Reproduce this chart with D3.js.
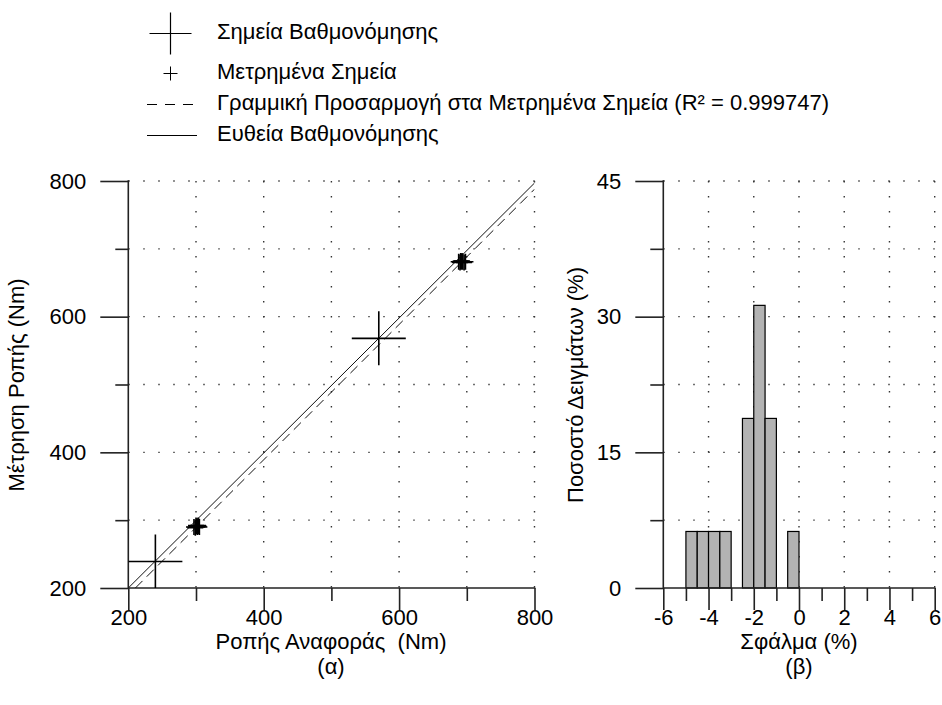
<!DOCTYPE html>
<html><head><meta charset="utf-8">
<script src="https://cdn.jsdelivr.net/npm/d3@7"></script>
<style>
body{margin:0;background:#fff}
svg text{font-family:"Liberation Sans",Arial,sans-serif;fill:#000}
</style></head><body>
<svg id="chart" width="942" height="705"></svg>
<script>
// Calibration points (reference torque, measured torque) in Nm
const calibRef = [240, 570];
const calibMeas = [239, 568];
// Calibration straight line end points
const calibLineRef = [200, 800];
const calibLineMeas = [200, 797];
// Measured points (reference torque, measured torque) in Nm
const measRef = [297, 299, 300, 301, 302, 303, 304, 305, 688, 690, 691, 692, 693, 694, 696, 698];
const measVal = [290, 289, 292, 291, 290, 292, 291, 290, 681, 680, 682, 681, 682, 681, 680, 681];
// Error histogram: bin lower edges (%) and share of samples (%)
const binStart = [-5, -4.5, -4, -3.5, -3, -2.5, -2, -1.5, -1, -0.5, 0, 0.5, 1, 1.5, 2, 2.5, 3, 3.5, 4];
const binPct = [6.25, 6.25, 6.25, 6.25, 0, 18.75, 31.25, 18.75, 0, 6.25, 0, 0, 0, 0, 0, 0, 0, 0, 0];
const binWidth = 0.5;
// Tick values
const torqueTicks = [200, 400, 600, 800];
const torqueMinor = [300, 500, 700];
const errTicks = [-6, -4, -2, 0, 2, 4, 6];
const errMinor = [-5, -3, -1, 1, 3, 5];
const pctTicks = [0, 15, 30, 45];
const pctMinor = [7.5, 22.5, 37.5];
const legendLabels = [
  "Σημεία Βαθμονόμησης",
  "Μετρημένα Σημεία",
  "Γραμμική Προσαρμογή στα Μετρημένα Σημεία (R² = 0.999747)",
  "Ευθεία Βαθμονόμησης"
];

const FS = 22;
const svg = d3.select("#chart");
const plotTop = 181, plotBottom = 588;
const plainFmt = d => String(d);

// ---------- left panel: torque scatter ----------
const x = d3.scaleLinear().domain([200, 800]).range([128.3, 534.5]);
const y = d3.scaleLinear().domain([200, 800]).range([plotBottom, plotTop]);

const gL = svg.append("g");
gL.append("clipPath").attr("id", "clipL").append("rect")
  .attr("x", x(200)).attr("y", plotTop).attr("width", x(800) - x(200)).attr("height", plotBottom - plotTop);

function dottedGrid(g, xs, ys, xScale, yScale) {
  g.selectAll(null).data(ys).join("line")
    .attr("x1", xScale.range()[0]).attr("x2", xScale.range()[1] + 1)
    .attr("y1", d => yScale(d)).attr("y2", d => yScale(d))
    .attr("stroke", "#333").attr("stroke-width", 1.4).attr("stroke-dasharray", "1.4,13.6");
  g.selectAll(null).data(xs).join("line")
    .attr("y1", plotTop).attr("y2", plotBottom)
    .attr("x1", d => xScale(d)).attr("x2", d => xScale(d))
    .attr("stroke", "#333").attr("stroke-width", 1.4).attr("stroke-dasharray", "1.4,13.6");
}
dottedGrid(gL, [300, 400, 500, 600, 700, 800], [300, 400, 500, 600, 700, 800], x, y);

function drawAxes(g, xScale, yScale, xMaj, xMin, yMaj, yMin) {
  const axStyle = sel => {
    sel.select(".domain").remove();
    sel.selectAll("line").attr("stroke", "#222").attr("stroke-width", 1.6);
    sel.selectAll("text").style("font-size", FS + "px").attr("fill", "#000");
  };
  g.append("g").attr("transform", `translate(0,${plotBottom})`)
    .call(d3.axisBottom(xScale).tickValues(xMaj).tickSize(22).tickPadding(-1).tickFormat(plainFmt)).call(axStyle);
  g.append("g").attr("transform", `translate(0,${plotBottom})`)
    .call(d3.axisBottom(xScale).tickValues(xMin).tickSize(13).tickFormat("")).call(axStyle);
  g.append("g").attr("transform", `translate(${xScale.range()[0]},0)`)
    .call(d3.axisLeft(yScale).tickValues(yMaj).tickSize(28).tickPadding(14).tickFormat(plainFmt)).call(axStyle);
  g.append("g").attr("transform", `translate(${xScale.range()[0]},0)`)
    .call(d3.axisLeft(yScale).tickValues(yMin).tickSize(13).tickFormat("")).call(axStyle);
  // axis lines
  g.append("line").attr("x1", xScale.range()[0]).attr("x2", xScale.range()[1] + 0.8)
    .attr("y1", plotBottom).attr("y2", plotBottom).attr("stroke", "#222").attr("stroke-width", 1.6);
  g.append("line").attr("x1", xScale.range()[0]).attr("x2", xScale.range()[0])
    .attr("y1", plotTop - 0.8).attr("y2", plotBottom).attr("stroke", "#222").attr("stroke-width", 1.6);
}
drawAxes(gL, x, y, torqueTicks, torqueMinor, torqueTicks, torqueMinor);

// least-squares fit of the measured points
const mx = d3.mean(measRef), my = d3.mean(measVal);
const slope = d3.sum(measRef, (v, i) => (v - mx) * (measVal[i] - my)) / d3.sum(measRef, v => (v - mx) ** 2);
const icpt = my - slope * mx;
const fitX0 = (200 - icpt) / slope;

const lines = gL.append("g").attr("clip-path", "url(#clipL)");
lines.append("line")
  .attr("x1", x(calibLineRef[0])).attr("y1", y(calibLineMeas[0]))
  .attr("x2", x(calibLineRef[1])).attr("y2", y(calibLineMeas[1]))
  .attr("stroke", "#111").attr("stroke-width", 1);
lines.append("line")
  .attr("x1", x(fitX0)).attr("y1", y(200))
  .attr("x2", x(800)).attr("y2", y(icpt + slope * 800))
  .attr("stroke", "#111").attr("stroke-width", 1).attr("stroke-dasharray", "10,6");

const crossPath = (cx, cy, r) => `M${cx - r},${cy}H${cx + r}M${cx},${cy - r}V${cy + r}`;
lines.selectAll(null).data(measRef).join("path")
  .attr("d", (d, i) => crossPath(x(d), y(measVal[i]), 8))
  .attr("stroke", "#000").attr("stroke-width", 1.6).attr("fill", "none");
lines.selectAll(null).data(calibRef).join("path")
  .attr("d", (d, i) => crossPath(x(d), y(calibMeas[i]), 27))
  .attr("stroke", "#000").attr("stroke-width", 1.6).attr("fill", "none");

// axis titles
svg.append("text").attr("x", 331).attr("y", 643).attr("text-anchor", "middle")
  .attr("dominant-baseline", "middle").style("font-size", FS + "px").style("white-space", "pre")
  .text("Ροπής Αναφοράς  (Nm)");
svg.append("text").attr("x", 331).attr("y", 668).attr("text-anchor", "middle")
  .attr("dominant-baseline", "middle").style("font-size", FS + "px").text("(α)");
svg.append("text").attr("transform", "translate(18,385) rotate(-90)").attr("text-anchor", "middle")
  .attr("dominant-baseline", "middle").style("font-size", FS + "px").text("Μέτρηση Ροπής (Nm)");

// ---------- right panel: error histogram ----------
const hx = d3.scaleLinear().domain([-6, 6]).range([663.3, 934.7]);
const hy = d3.scaleLinear().domain([0, 45]).range([plotBottom, plotTop]);
const gR = svg.append("g");
dottedGrid(gR, [-4, -2, 0, 2, 4, 6], [7.5, 15, 22.5, 30, 37.5, 45], hx, hy);

gR.selectAll(null).data(binStart).join("rect")
  .attr("x", d => hx(d)).attr("width", d => hx(d + binWidth) - hx(d))
  .attr("y", (d, i) => hy(binPct[i])).attr("height", (d, i) => hy(0) - hy(binPct[i]))
  .attr("fill", "#b3b3b3").attr("stroke", "#000").attr("stroke-width", 1.2);

drawAxes(gR, hx, hy, errTicks, errMinor, pctTicks, pctMinor);

svg.append("text").attr("x", 799).attr("y", 643).attr("text-anchor", "middle")
  .attr("dominant-baseline", "middle").style("font-size", FS + "px").text("Σφάλμα (%)");
svg.append("text").attr("x", 799).attr("y", 668).attr("text-anchor", "middle")
  .attr("dominant-baseline", "middle").style("font-size", FS + "px").text("(β)");
svg.append("text").attr("transform", "translate(577,385) rotate(-90)").attr("text-anchor", "middle")
  .attr("dominant-baseline", "middle").style("font-size", FS + "px").text("Ποσοστό Δειγμάτων (%)");

// ---------- legend ----------
const legY = [33, 73, 104, 135];
const lg = svg.append("g");
lg.append("path").attr("d", crossPath(170.5, legY[0] + 0.5, 21)).attr("stroke", "#000").attr("stroke-width", 1.2);
lg.append("path").attr("d", crossPath(170.5, legY[1] + 0.5, 7)).attr("stroke", "#000").attr("stroke-width", 1);
lg.append("line").attr("x1", 147).attr("x2", 197).attr("y1", legY[2] + 0.5).attr("y2", legY[2] + 0.5)
  .attr("stroke", "#000").attr("stroke-width", 1).attr("stroke-dasharray", "10,8");
lg.append("line").attr("x1", 147).attr("x2", 197).attr("y1", legY[3] + 0.5).attr("y2", legY[3] + 0.5)
  .attr("stroke", "#000").attr("stroke-width", 1);
lg.selectAll(null).data(legendLabels).join("text")
  .attr("x", 217).attr("y", (d, i) => legY[i]).attr("dominant-baseline", "middle")
  .style("font-size", FS + "px").text(d => d);
</script>
</body></html>
